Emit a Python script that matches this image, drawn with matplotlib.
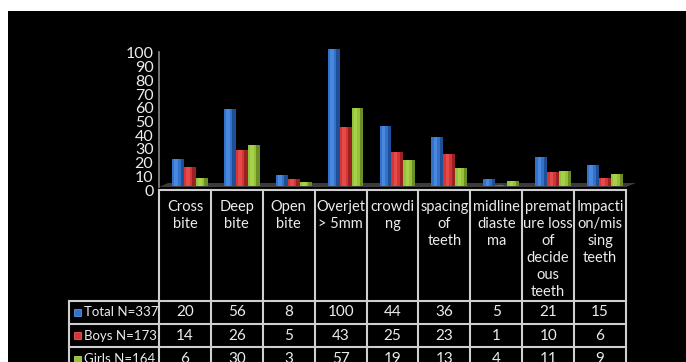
import matplotlib
matplotlib.use("Agg")
import matplotlib.pyplot as plt
from matplotlib.patches import Rectangle, Polygon
from matplotlib.lines import Line2D

categories = ["Cross\nbite", "Deep\nbite", "Open\nbite", "Overjet\n> 5mm", "crowdi\nng",
              "spacing\nof\nteeth", "midline\ndiaste\nma",
              "premat\nure loss\nof\ndecide\nous\nteeth", "Impacti\non/mis\nsing\nteeth"]
series_names = ["Total N=337", "Boys N=173", "Girls N=164"]
total = [20, 56, 8, 100, 44, 36, 5, 21, 15]
boys = [14, 26, 5, 43, 25, 23, 1, 10, 6]
girls = [6, 30, 3, 57, 19, 13, 4, 11, 9]
yticks = list(range(0, 101, 10))

series = [total, boys, girls]
colors = ["#3272cc", "#d63535", "#95c23a"]
dark = ["#1f4f96", "#9c2222", "#6c8f25"]
light = ["#5a97e6", "#ee5c5c", "#b4dc58"]

W, H = 686, 362
fig = plt.figure(figsize=(W / 100, H / 100), dpi=100, facecolor="white")
fx = lambda x: x / W
fy = lambda y: 1 - y / H

FONT = ["Lato", "DejaVu Sans"]
TXT = "#ececec"
LINE = "#cfcfcf"

# black background panel
fig.patches.append(Rectangle((fx(8), 0), 1 - fx(8), fy(11), transform=fig.transFigure,
                             facecolor="black", edgecolor="none", zorder=-5))

left, right, base, top = 159, 626, 190, 53
ncat = len(categories)
colw = (right - left) / ncat
upp = 100 / (base - top)  # data units per pixel

ax = fig.add_axes([fx(left), fy(base), (right - left) / W, (base - top) / H], zorder=2)
ax.set_xlim(0, ncat)
ax.set_ylim(0, 100)
ax.patch.set_visible(False)
for s in ["top", "right", "bottom"]:
    ax.spines[s].set_visible(False)
ax.spines["left"].set_color("#8a8a8a")
ax.spines["left"].set_linewidth(1.2)
ax.spines["left"].set_bounds(3 * upp, 100 + 1 * upp)
ax.set_xticks([])
ax.set_yticks(yticks)
ax.set_yticklabels([str(t) for t in yticks], color=TXT, fontsize=11.5, family=FONT)
ax.tick_params(axis="y", length=0, pad=4)

# floor
fl = Polygon([(0, 3 * upp), (ncat, 3 * upp), (ncat + 10 / colw, 7 * upp), (9 / colw, 7 * upp)],
             closed=True, facecolor="#3c3c3c", edgecolor="none", clip_on=False, zorder=1)
ax.add_patch(fl)

bw = 0.23
offs = [0.25, 0.48, 0.71]
b0 = 4 * upp
for si, vals in enumerate(series):
    xs = [i + offs[si] for i in range(ncat)]
    ax.bar(xs, vals, width=bw, bottom=b0, align="edge", color=colors[si],
           edgecolor="none", zorder=2, clip_on=False)
    ax.bar([x + bw * 0.72 for x in xs], vals, width=bw * 0.28, bottom=b0, align="edge",
           color=dark[si], edgecolor="none", zorder=3, clip_on=False)
    ax.bar([x + bw * 0.2 for x in xs], vals, width=bw * 0.3, bottom=b0, align="edge",
           color=light[si], edgecolor="none", zorder=3, alpha=0.6, clip_on=False)

# table
htop, hbot = 190, 301
rows_y = [301, 324, 347, 371]
lab_left = 69
for k in range(ncat + 1):
    x = left + colw * k
    fig.add_artist(Line2D([fx(x), fx(x)], [fy(htop), fy(rows_y[-1])], color=LINE, lw=1.5))
fig.add_artist(Line2D([fx(left), fx(right)], [fy(htop), fy(htop)], color=LINE, lw=1.5))
for y in rows_y:
    fig.add_artist(Line2D([fx(lab_left), fx(right)], [fy(y), fy(y)], color=LINE, lw=1.5))
fig.add_artist(Line2D([fx(lab_left), fx(lab_left)], [fy(rows_y[0]), fy(rows_y[-1])], color=LINE, lw=1.5))

for i, c in enumerate(categories):
    cx = left + colw * (i + 0.5)
    fig.text(fx(cx), fy(200), c, ha="center", va="top", color=TXT, fontsize=10.5,
             family=FONT, linespacing=1.27)

for r, (name, vals) in enumerate(zip(series_names, series)):
    cy = (rows_y[r] + rows_y[r + 1]) / 2
    fig.patches.append(Rectangle((fx(74), fy(cy + 3.5)), 7 / W, 7 / H, transform=fig.transFigure,
                                 facecolor=colors[r], edgecolor=light[r], lw=0.6, zorder=3))
    fig.text(fx(84), fy(cy), name, ha="left", va="center", color=TXT, fontsize=9.5, family=FONT)
    for i, v in enumerate(vals):
        cx = left + colw * (i + 0.5)
        fig.text(fx(cx), fy(cy), str(v), ha="center", va="center", color=TXT, fontsize=11,
                 family=FONT)

fig.savefig("out.png", dpi=100, facecolor="white")
